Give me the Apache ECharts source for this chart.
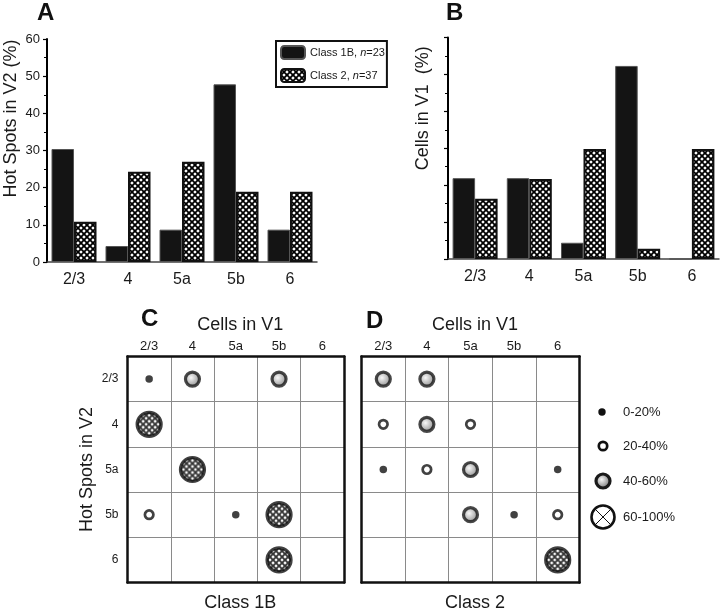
<!DOCTYPE html>
<html>
<head>
<meta charset="utf-8">
<script src="https://cdn.jsdelivr.net/npm/echarts@6/dist/echarts.min.js"></script>
<style>
html,body{margin:0;padding:0;background:#fff;}
#chart{width:720px;height:608px;}
</style>
</head>
<body>
<div id="chart"></div>
<script>
// ---------- data ----------
const layers = ['2/3', '4', '5a', '5b', '6'];
const classNames = ['Class 1B', 'Class 2'];
const classCounts = [23, 37];
// Panel A: Hot spots in V2 (%)
const hotSpots1B = [30.4, 4.3, 8.7, 47.8, 8.7];
const hotSpots2 = [10.8, 24.3, 27.0, 18.9, 18.9];
// Panel B: Cells in V1 (%)
const cells1B = [21.9, 21.9, 4.4, 52.3, 0];
const cells2 = [16.3, 21.7, 29.8, 2.8, 29.8];
// Panel C (Class 1B) matrix cells: [V1 layer, V2 layer]
const c_0_20 = [['2/3', '2/3'], ['5a', '5b']];
const c_20_40 = [['2/3', '5b']];
const c_40_60 = [['4', '2/3'], ['5b', '2/3']];
const c_60_100 = [['2/3', '4'], ['4', '5a'], ['5b', '5b'], ['5b', '6']];
// Panel D (Class 2)
const d_0_20 = [['2/3', '5a'], ['6', '5a'], ['5b', '5b']];
const d_20_40 = [['2/3', '4'], ['5a', '4'], ['4', '5a'], ['6', '5b']];
const d_40_60 = [['2/3', '2/3'], ['4', '2/3'], ['4', '4'], ['5a', '5a'], ['5a', '5b']];
const d_60_100 = [['6', '6']];
const rangeLabels = ['0-20%', '20-40%', '40-60%', '60-100%'];

// ---------- styles ----------
const FONT = 'Liberation Sans, Arial, sans-serif';
const INK = '#1a1a1a';
function makeHatch(size, lw) {
  const c = document.createElement('canvas');
  c.width = size; c.height = size;
  const g = c.getContext('2d');
  g.fillStyle = '#fff'; g.fillRect(0, 0, size, size);
  g.strokeStyle = '#000'; g.lineWidth = lw;
  g.beginPath();
  g.moveTo(-1, -1); g.lineTo(size + 1, size + 1);
  g.moveTo(-1, size + 1); g.lineTo(size + 1, -1);
  g.stroke();
  return c;
}
const barHatch = { image: makeHatch(6, 1.8), repeat: 'repeat' };
// scatter symbols are unit paths scaled by symbolSize/2, so the pattern is scaled back
const HATCH_SIZE = 24;
const dotHatch = { image: makeHatch(6, 1.9), repeat: 'repeat', scaleX: 2 / HATCH_SIZE, scaleY: 2 / HATCH_SIZE };
const sphere = new echarts.graphic.RadialGradient(0.42, 0.42, 0.6, [
  { offset: 0, color: '#f6f6f6' }, { offset: 1, color: '#666' }
]);

const chart = echarts.init(document.getElementById('chart'), null, { renderer: 'canvas' });

const gridBase = { outerBoundsMode: 'none', containLabel: false };

function barValueAxis(gridIndex, showLabels, name, shift) {
  return {
    type: 'value', gridIndex, min: 0, max: 60, interval: 10,
    name, nameLocation: 'middle', nameGap: showLabels ? 27 : 16,
    nameTextStyle: { fontFamily: FONT, fontSize: 18, color: INK, padding: [0, 0, 0, shift] },
    axisLine: { show: true, lineStyle: { color: '#000', width: 2 } },
    axisTick: { show: true, length: 4, lineStyle: { color: '#000', width: 1.2 } },
    minorTick: { show: true, splitNumber: 2, length: 3, lineStyle: { color: '#000', width: 1 } },
    axisLabel: { show: showLabels, fontFamily: FONT, fontSize: 13, color: INK, margin: 7 },
    splitLine: { show: false }
  };
}
function barCatAxis(gridIndex) {
  return {
    type: 'category', gridIndex, data: layers,
    axisLine: { show: true, lineStyle: { color: '#444', width: 1.5 } },
    axisTick: { show: false },
    axisLabel: { fontFamily: FONT, fontSize: 16, color: INK, margin: 10 },
    splitLine: { show: false }
  };
}
const matrixLine = { color: '#8a8a8a', width: 1 };
function matTopAxis(gridIndex) {
  return {
    type: 'category', gridIndex, data: layers, position: 'top',
    name: 'Cells in V1', nameLocation: 'middle', nameGap: 22,
    nameTextStyle: { fontFamily: FONT, fontSize: 18, color: INK, padding: [0, 0, 0, 9] },
    axisLine: { show: true, lineStyle: { color: '#111', width: 2.5 } },
    axisTick: { show: false },
    axisLabel: { fontFamily: FONT, fontSize: 13, color: INK, margin: 4 },
    splitLine: { show: true, lineStyle: matrixLine }, z: 3
  };
}
function matBottomAxis(gridIndex, name) {
  return {
    type: 'category', gridIndex, data: layers, position: 'bottom',
    name, nameLocation: 'middle', nameGap: 12,
    nameTextStyle: { fontFamily: FONT, fontSize: 18, color: INK, padding: [0, 0, 0, 9] },
    axisLine: { show: true, lineStyle: { color: '#111', width: 2.5 } },
    axisTick: { show: false }, axisLabel: { show: false }, splitLine: { show: false }, z: 4
  };
}
function matLeftAxis(gridIndex, showLabels) {
  return {
    type: 'category', gridIndex, data: layers, inverse: true, position: 'left',
    name: showLabels ? 'Hot Spots in V2' : '', nameLocation: 'middle', nameGap: 31,
    nameTextStyle: { fontFamily: FONT, fontSize: 18, color: INK },
    axisLine: { show: true, lineStyle: { color: '#111', width: 2.5 } },
    axisTick: { show: false },
    axisLabel: { show: showLabels, fontFamily: FONT, fontSize: 12, color: INK, margin: 9 },
    splitLine: { show: true, lineStyle: matrixLine }, z: 3
  };
}
function matRightAxis(gridIndex) {
  return {
    type: 'category', gridIndex, data: layers, inverse: true, position: 'right',
    axisLine: { show: true, lineStyle: { color: '#111', width: 2.5 } },
    axisTick: { show: false }, axisLabel: { show: false }, splitLine: { show: false }, z: 4
  };
}
function dotSeries(data, x, y, kind) {
  const s = { type: 'scatter', xAxisIndex: x, yAxisIndex: y, data, symbol: 'circle', z: 5, silent: true };
  if (kind === 0) { s.symbolSize = 7.5; s.itemStyle = { color: '#111' }; }
  if (kind === 1) { s.symbolSize = 8.5; s.itemStyle = { color: '#fff', borderColor: '#111', borderWidth: 2.7 }; }
  if (kind === 2) { s.symbolSize = 14; s.itemStyle = { color: sphere, borderColor: '#1a1a1a', borderWidth: 3.2 }; }
  if (kind === 3) { s.symbolSize = HATCH_SIZE; s.itemStyle = { color: dotHatch, borderColor: '#111', borderWidth: 3.2 }; }
  return s;
}

const letter = (t, x, y) => ({ type: 'text', left: x, top: y, style: { text: t, font: 'bold 24px ' + FONT, fill: '#111' } });
const keyY = [412, 446, 481, 517];
const graphics = [
  letter('A', 37, 1), letter('B', 446, 1), letter('C', 141, 307), letter('D', 366, 309),
  { type: 'circle', shape: { cx: 602, cy: keyY[0], r: 3.7 }, style: { fill: '#111' } },
  { type: 'circle', shape: { cx: 603, cy: keyY[1], r: 4.2 }, style: { fill: '#fff', stroke: '#111', lineWidth: 2.7 } },
  { type: 'circle', shape: { cx: 603, cy: keyY[2], r: 7 }, style: { fill: sphere, stroke: '#1a1a1a', lineWidth: 3.2 } },
  { type: 'circle', shape: { cx: 603, cy: keyY[3], r: 11.5 }, style: { fill: '#fff', stroke: '#111', lineWidth: 2.6 } },
  { type: 'line', shape: { x1: 595, y1: keyY[3] - 8, x2: 611, y2: keyY[3] + 8 }, style: { stroke: '#111', lineWidth: 1 } },
  { type: 'line', shape: { x1: 595, y1: keyY[3] + 8, x2: 611, y2: keyY[3] - 8 }, style: { stroke: '#111', lineWidth: 1 } }
];
rangeLabels.forEach((t, i) => graphics.push({
  type: 'text', x: 623, y: keyY[i],
  style: { text: t, font: '13px ' + FONT, fill: INK, verticalAlign: 'middle', align: 'left' }
}));

const option = {
  backgroundColor: '#fff',
  animation: false,
  textStyle: { fontFamily: FONT },
  grid: [
    Object.assign({ left: 47, top: 39, width: 270, height: 223 }, gridBase),
    Object.assign({ left: 448, top: 37.5, width: 271, height: 221.5 }, gridBase),
    Object.assign({ left: 127.5, top: 356.5, width: 216.5, height: 226 }, gridBase),
    Object.assign({ left: 361.5, top: 356.5, width: 218, height: 226 }, gridBase)
  ],
  legend: {
    left: 276, top: 41, orient: 'vertical',
    data: classNames,
    itemWidth: 24, itemHeight: 13, itemGap: 8,
    borderColor: '#111', borderWidth: 2, padding: [4, 2, 4, 4],
    backgroundColor: '#fff',
    formatter: name => name + ', {i|n}=' + classCounts[classNames.indexOf(name)],
    textStyle: { fontFamily: FONT, fontSize: 11, color: INK, rich: { i: { fontStyle: 'italic', fontSize: 11, fontFamily: FONT, color: INK } } }
  },
  xAxis: [
    barCatAxis(0), barCatAxis(1),
    matTopAxis(2), matBottomAxis(2, 'Class 1B'),
    matTopAxis(3), matBottomAxis(3, 'Class 2')
  ],
  yAxis: [
    barValueAxis(0, true, 'Hot Spots in V2 (%)', 64),
    barValueAxis(1, false, 'Cells in V1  (%)', 80),
    matLeftAxis(2, true), matRightAxis(2),
    matLeftAxis(3, false), matRightAxis(3)
  ],
  series: [
    { name: classNames[0], type: 'bar', xAxisIndex: 0, yAxisIndex: 0, data: hotSpots1B, barWidth: 22.5, barGap: '0%',
      itemStyle: { color: '#141414', borderColor: '#555', borderWidth: 1 } },
    { name: classNames[1], type: 'bar', xAxisIndex: 0, yAxisIndex: 0, data: hotSpots2, barWidth: 22.5, barGap: '0%',
      itemStyle: { color: barHatch, borderColor: '#111', borderWidth: 2 } },
    { name: classNames[0], type: 'bar', xAxisIndex: 1, yAxisIndex: 1, data: cells1B, barWidth: 22.5, barGap: '0%',
      itemStyle: { color: '#141414', borderColor: '#555', borderWidth: 1 } },
    { name: classNames[1], type: 'bar', xAxisIndex: 1, yAxisIndex: 1, data: cells2, barWidth: 22.5, barGap: '0%',
      itemStyle: { color: barHatch, borderColor: '#111', borderWidth: 2 } },
    dotSeries(c_0_20, 2, 2, 0), dotSeries(c_20_40, 2, 2, 1), dotSeries(c_40_60, 2, 2, 2), dotSeries(c_60_100, 2, 2, 3),
    dotSeries(d_0_20, 4, 4, 0), dotSeries(d_20_40, 4, 4, 1), dotSeries(d_40_60, 4, 4, 2), dotSeries(d_60_100, 4, 4, 3)
  ],
  graphic: graphics
};
chart.setOption(option);
</script>
</body>
</html>
